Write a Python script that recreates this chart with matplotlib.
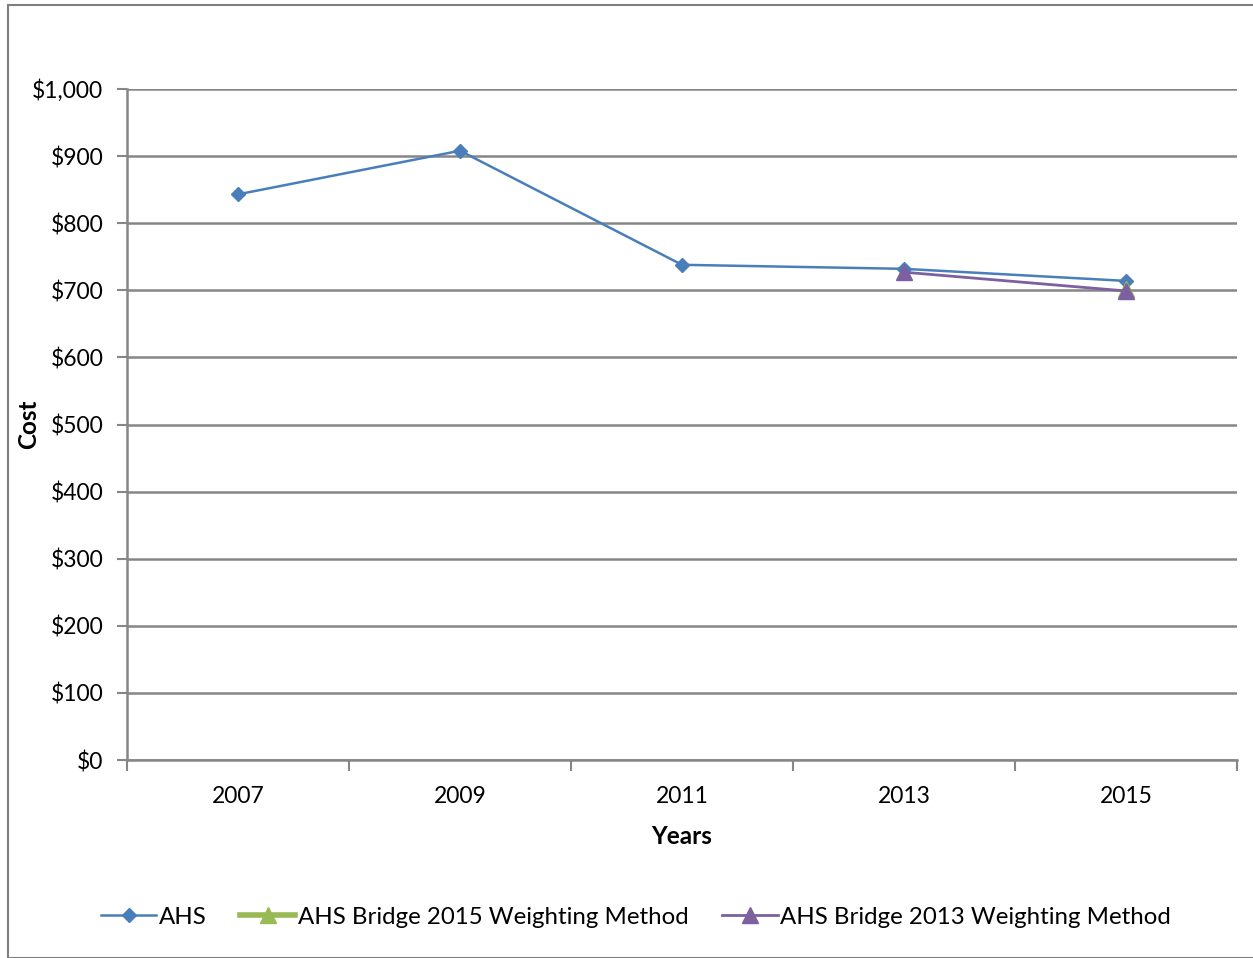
import matplotlib
matplotlib.use("Agg")
import matplotlib.pyplot as plt
from matplotlib.lines import Line2D
from matplotlib.patches import Rectangle

years = ["2007", "2009", "2011", "2013", "2015"]
ahs = [843, 908, 738, 732, 714]
bridge2015_years = ["2015"]
bridge2015 = [702]
bridge2013_years = ["2013", "2015"]
bridge2013 = [727, 699]
yticks = [0, 100, 200, 300, 400, 500, 600, 700, 800, 900, 1000]

plt.rcParams['font.family'] = ['Lato', 'DejaVu Sans']

W, H = 1253, 958
fig = plt.figure(figsize=(W/100, H/100), dpi=100)
ax = fig.add_axes([127/W, 1-760/H, (1237-127)/W, (760-89)/H])

blue = "#4A7EBB"
green = "#98B954"
purple = "#7D60A0"
grid = "#868686"

pos = {y: i + 0.5 for i, y in enumerate(years)}
ax.plot([pos[y] for y in years], ahs, color=blue, lw=1.8, marker="D", ms=7, zorder=3)
ax.plot([pos[y] for y in bridge2015_years], bridge2015, color=green, lw=3, marker="^", ms=12, zorder=4)
ax.plot([pos[y] for y in bridge2013_years], bridge2013, color=purple, lw=2, marker="^", ms=12, zorder=5)

ax.set_xlim(0, len(years))
ax.set_ylim(0, 1000)
ax.set_yticks(yticks)
ax.set_yticklabels(["${:,}".format(v) for v in yticks], fontsize=16.5)
ax.set_xticks([i + 0.5 for i in range(len(years))])
ax.set_xticklabels(years, fontsize=16.5)
ax.set_xticks(range(len(years) + 1), minor=True)
ax.tick_params(axis="x", which="major", length=0, pad=19)
ax.tick_params(axis="x", which="minor", length=8, color=grid, width=1.5, direction="out")
ax.tick_params(axis="y", length=7, color=grid, width=1.5, direction="out", pad=10)
ax.yaxis.grid(True, color=grid, lw=1.8)
ax.set_axisbelow(True)
for s in ["top", "right"]:
    ax.spines[s].set_visible(False)
for s in ["left", "bottom"]:
    ax.spines[s].set_color(grid)
    ax.spines[s].set_linewidth(1.8)

ax.set_ylabel("Cost", fontsize=17.5, fontweight="bold")
ax.yaxis.set_label_coords((40 - 127) / 1110, 0.5)
ax.set_xlabel("Years", fontsize=17.5, fontweight="bold", labelpad=13)

handles = [
    Line2D([], [], color=blue, lw=1.8, marker="D", ms=7),
    Line2D([], [], color=green, lw=4, marker="^", ms=12),
    Line2D([], [], color=purple, lw=2, marker="^", ms=12),
]
labels = ["AHS", "AHS Bridge 2015 Weighting Method", "AHS Bridge 2013 Weighting Method"]
fig.legend(handles, labels, loc="center", bbox_to_anchor=(636/W, 1-917/H), ncol=3,
           frameon=False, fontsize=17.3, handlelength=2.3, handletextpad=0.1, columnspacing=1.4)

fig.patches.append(Rectangle((8/W, 0.5/H), 1.2, 1-4.5/H - 0.5/H, transform=fig.transFigure,
                             fill=False, edgecolor="#7F7F7F", lw=1.5))

fig.savefig("out.png", dpi=100)
